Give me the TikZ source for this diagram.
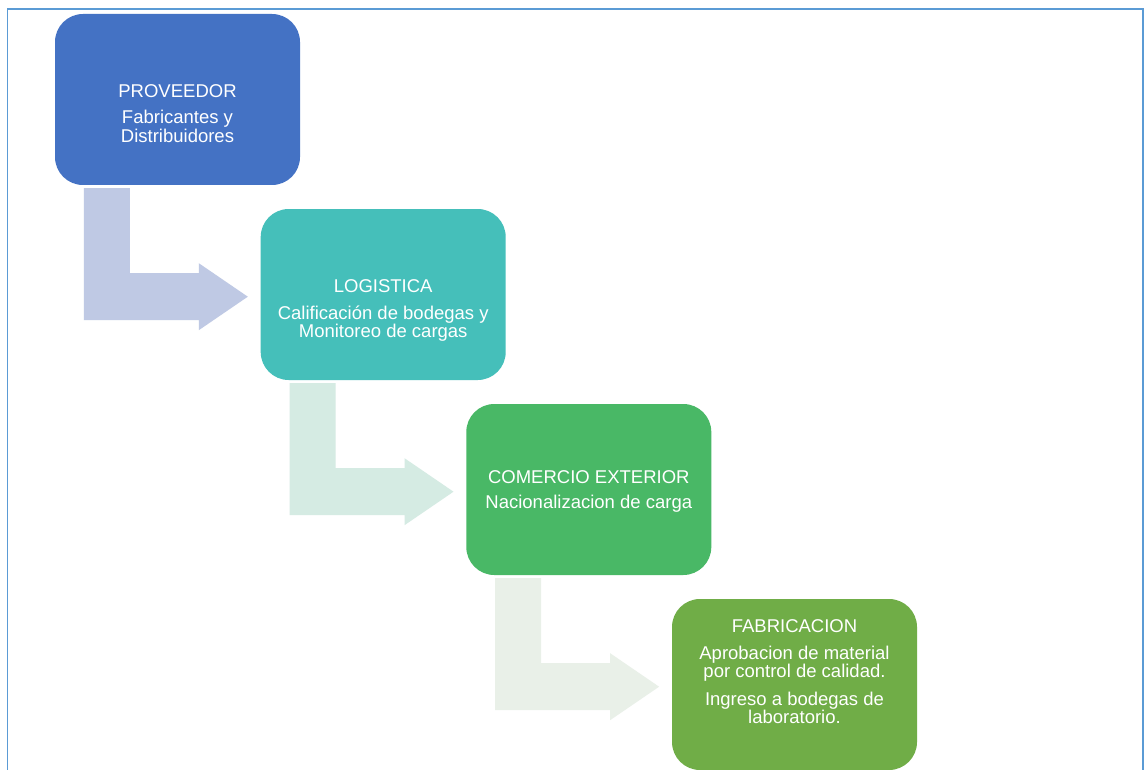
\documentclass[tikz,border=0pt]{standalone}
\usepackage{fontspec}
\setmainfont{Liberation Sans}
\usetikzlibrary{calc}
\definecolor{frameblue}{HTML}{5B9BD5}
\definecolor{boxA}{HTML}{4472C4}
\definecolor{boxB}{HTML}{45BFBA}
\definecolor{boxC}{HTML}{49B866}
\definecolor{boxD}{HTML}{70AD47}
\definecolor{arrA}{HTML}{BFC9E4}
\definecolor{arrB}{HTML}{D5EBE3}
\definecolor{arrC}{HTML}{E9F0E8}
\tikzset{
  stagebox/.style={rectangle, rounded corners=28pt, minimum width=245pt, minimum height=171pt, inner sep=0pt, draw=none},
  txt/.style={anchor=base, text=white, inner sep=0pt, font=\fontsize{18.5}{18.5}\selectfont},
  bentarrow/.style={draw=none}
}
\begin{document}
\begin{tikzpicture}[x=1pt,y=-1pt]
\useasboundingbox (0,0) rectangle (1145,770);
\fill[white] (0,0) rectangle (1145,770);
\draw[frameblue, line width=1.8pt] (7.5,780) -- (7.5,9) -- (1143.2,9) -- (1143.2,780);

\node[stagebox, fill=boxA] (b1) at (177.5,99.5) {};
\node[stagebox, fill=boxB] (b2) at (383.2,294.5) {};
\node[stagebox, fill=boxC] (b3) at (588.8,489.5) {};
\node[stagebox, fill=boxD] (b4) at (794.5,684.5) {};

\foreach \a/\c in {b1/arrA, b2/arrB, b3/arrC} {
  \fill[\c, bentarrow] ($(\a.south west)+(29,3)$) -- ++(46,0) -- ++(0,85) -- ++(69,0) -- ++(0,-10)
    -- ++(49,33.5) -- ++(-49,33.5) -- ++(0,-10) -- ++(-115,0) -- cycle;
}

\node[txt] (t1a) at ($(b1.north)+(0,83.5)$) {PROVEEDOR};
\node[txt] (t1b) at ($(b1.north)+(0,110.2)$) {Fabricantes y};
\node[txt] (t1c) at ($(b1.north)+(0,128.8)$) {Distribuidores};

\node[txt] (t2a) at ($(b2.north)+(0,83.5)$) {LOGISTICA};
\node[txt] (t2b) at ($(b2.north)+(0,110.2)$) {Calificación de bodegas y};
\node[txt] (t2c) at ($(b2.north)+(0,128.5)$) {Monitoreo de cargas};

\node[txt] (t3a) at ($(b3.north)+(0,79.2)$) {COMERCIO EXTERIOR};
\node[txt] (t3b) at ($(b3.north)+(0,104.8)$) {Nacionalizacion de carga};

\node[txt] (t4a) at ($(b4.north)+(0,33.5)$) {FABRICACION};
\node[txt] (t4b) at ($(b4.north)+(0,60.5)$) {Aprobacion de material};
\node[txt] (t4c) at ($(b4.north)+(0,78.9)$) {por control de calidad.};
\node[txt] (t4d) at ($(b4.north)+(0,106.5)$) {Ingreso a bodegas de};
\node[txt] (t4e) at ($(b4.north)+(0,124.9)$) {laboratorio.};
\end{tikzpicture}
\end{document}
